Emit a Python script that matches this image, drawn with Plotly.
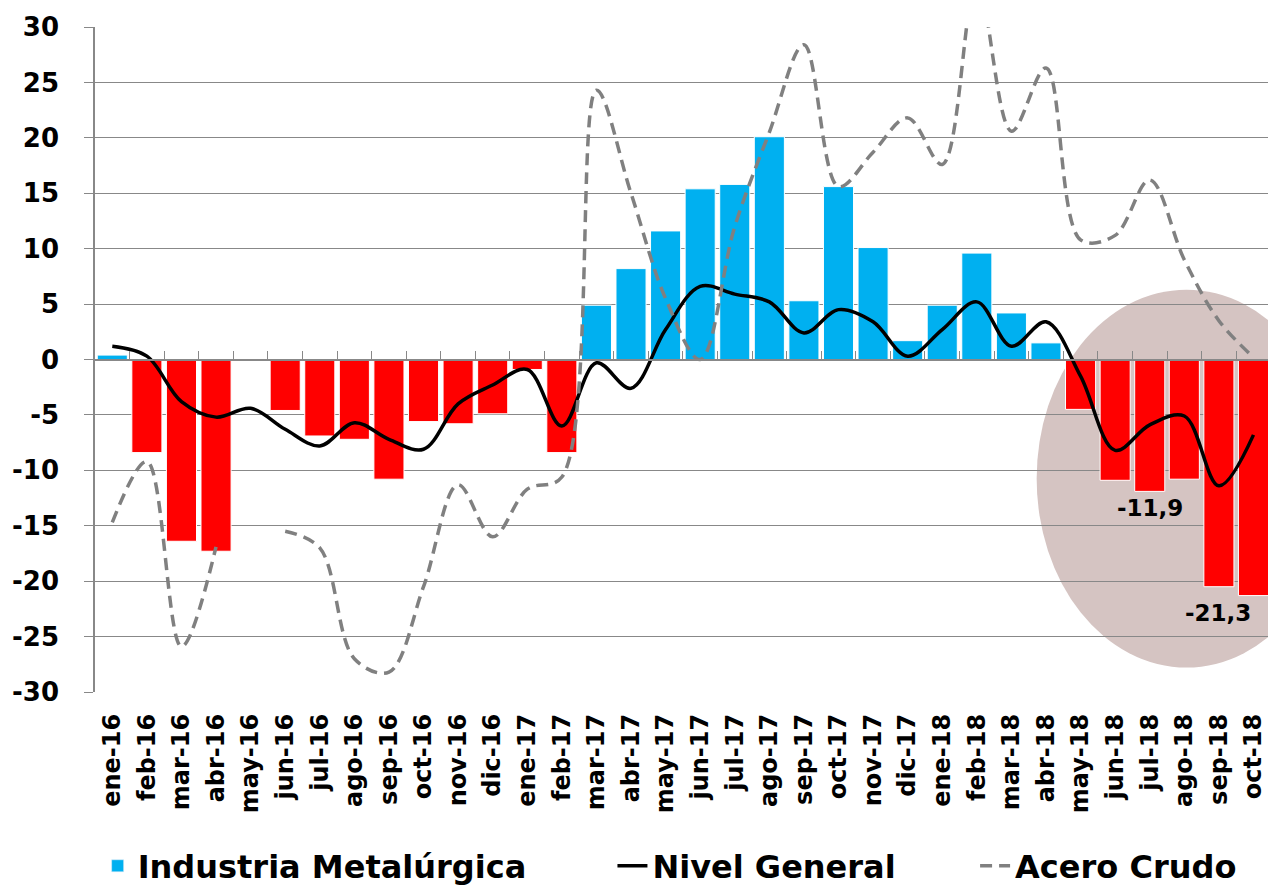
import plotly.graph_objects as go

months = ["ene-16","feb-16","mar-16","abr-16","may-16","jun-16","jul-16","ago-16","sep-16","oct-16","nov-16","dic-16",
          "ene-17","feb-17","mar-17","abr-17","may-17","jun-17","jul-17","ago-17","sep-17","oct-17","nov-17","dic-17",
          "ene-18","feb-18","mar-18","abr-18","may-18","jun-18","jul-18","ago-18","sep-18","oct-18"]

industria_metalurgica = [0.4, -8.4, -16.4, -17.3, None, -4.6, -6.9, -7.2, -10.8, -5.6, -5.8, -4.9,
                         -0.9, -8.4, 4.9, 8.2, 11.6, 15.4, 15.8, 20.1, 5.3, 15.6, 10.1, 1.7,
                         4.9, 9.6, 4.2, 1.5, -4.5, -10.9, -11.9, -10.8, -20.5, -21.3]

nivel_general = [1.2, 0.3, -3.8, -5.2, -4.4, -6.3, -7.8, -5.7, -7.2, -8.1, -4.0, -2.3,
                 -0.9, -6.0, -0.3, -2.6, 2.7, 6.6, 5.9, 5.2, 2.4, 4.5, 3.4, 0.3,
                 2.7, 5.2, 1.2, 3.4, -1.5, -8.2, -5.9, -5.1, -11.4, -6.8]

acero_crudo = [-14.7, -9.2, -25.9, -16.9, None, -15.5, -17.0, -27.0, -28.2, -20.5, -11.3, -16.0,
               -11.7, -10.6, 24.3, 15.0, 5.5, 0.0, 12.0, 20.5, 28.4, 15.6, 18.7, 21.8,
               17.6, 34.0, 20.6, 26.3, 10.8, 11.2, 16.2, 9.0, 3.5, 0.2]

y_ticks = [-30, -25, -20, -15, -10, -5, 0, 5, 10, 15, 20, 25, 30]
y_tick_text = [str(v) for v in y_ticks]

# highlighted points
label_idx = [30, 33]

x = list(range(len(months)))
BLUE = "#00B0F0"
RED = "#FF0000"
GRID = "#888888"
FONT = "DejaVu Sans"

bar_colors = [BLUE if (v is not None and v >= 0) else RED for v in industria_metalurgica]

fig = go.Figure()

fig.add_trace(go.Bar(
    x=x, y=industria_metalurgica, name="Industria Metalúrgica",
    marker=dict(color=bar_colors, line=dict(color="white", width=1)),
    showlegend=False,
))
fig.add_trace(go.Bar(x=[None], y=[None], name="Industria Metalúrgica",
                     marker=dict(color=BLUE), legend="legend", showlegend=True))

fig.add_trace(go.Scatter(
    x=x, y=nivel_general, name="Nivel General", mode="lines",
    line=dict(color="black", width=3.5, shape="spline", smoothing=1.0),
    legend="legend2",
))
fig.add_trace(go.Scatter(
    x=x, y=acero_crudo, name="Acero Crudo", mode="lines",
    line=dict(color="#808080", width=3.5, dash="12px,7px", shape="spline", smoothing=1.0),
    connectgaps=False, legend="legend3",
))
# invisible trace for the zero-line axis
fig.add_trace(go.Scatter(x=[0], y=[0], xaxis="x2", mode="markers",
                         marker=dict(opacity=0), showlegend=False, hoverinfo="skip"))

# highlight ellipse
fig.add_shape(type="circle", xref="x", yref="y", x0=26.73, x1=35.4, y0=-27.8, y1=6.3,
              fillcolor="#D5C4C2", line=dict(width=0), layer="below")

for i in label_idx:
    v = industria_metalurgica[i]
    txt = f"{v:.1f}".replace(".", ",")
    fig.add_annotation(x=i, y=v, text=txt, showarrow=False, yanchor="top", yshift=-2,
                       xshift=(-35 if i == len(months) - 1 else 0),
                       font=dict(family=FONT, size=23, color="black", weight="bold"))

xr = [-0.5, 33.42]
legend_font = dict(family=FONT, size=32, color="black", weight="bold")
leg_y = 0.027
fig.update_layout(
    width=1268, height=890,
    margin=dict(l=95, r=0, t=27, b=198, autoexpand=False),
    paper_bgcolor="white", plot_bgcolor="white",
    bargap=0.13,
    xaxis=dict(range=xr, tickmode="array", tickvals=x, ticktext=months, tickangle=-90,
               tickfont=dict(family=FONT, size=24, color="black", weight="bold"),
               showgrid=False, zeroline=False, showline=False, ticks="",
               ticklabelstandoff=16, automargin=False),
    xaxis2=dict(range=xr, overlaying="x", anchor="free", position=0.5, side="bottom",
                showline=True, linecolor=GRID, linewidth=1.5,
                tickmode="array", tickvals=[i + 0.5 for i in x[:-1]], ticks="inside",
                ticklen=8, tickwidth=1.3, tickcolor=GRID, showticklabels=False,
                showgrid=False, zeroline=False, automargin=False),
    yaxis=dict(range=[-30, 30], tickmode="array", tickvals=y_ticks, ticktext=y_tick_text,
               tickfont=dict(family=FONT, size=26, color="black", weight="bold"),
               showgrid=True, gridcolor=GRID, gridwidth=1.3,
               zeroline=False, showline=True, linecolor=GRID, linewidth=1.5,
               ticks="outside", ticklen=9, tickcolor=GRID, tickwidth=1.3,
               ticklabelstandoff=20, automargin=False),
    legend=dict(orientation="h", xref="container", yref="container", x=0.077, y=leg_y,
                xanchor="left", yanchor="middle", bgcolor="rgba(0,0,0,0)", font=legend_font),
    legend2=dict(orientation="h", xref="container", yref="container", x=0.483, y=leg_y,
                 xanchor="left", yanchor="middle", bgcolor="rgba(0,0,0,0)", font=legend_font),
    legend3=dict(orientation="h", xref="container", yref="container", x=0.769, y=leg_y,
                 xanchor="left", yanchor="middle", bgcolor="rgba(0,0,0,0)", font=legend_font),
    showlegend=True,
)

fig.write_html("out.html", config={"displayModeBar": False},
               post_script="document.body.style.margin='0';document.body.style.padding='0';")
